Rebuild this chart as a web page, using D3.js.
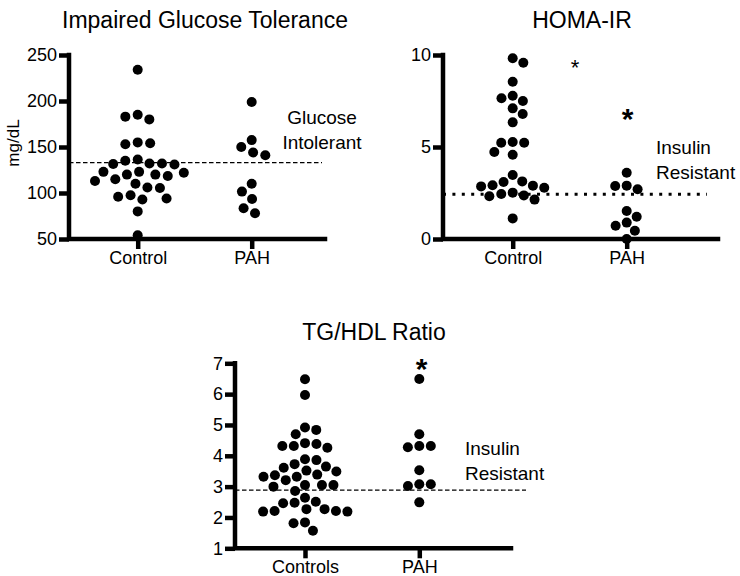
<!DOCTYPE html>
<html>
<head>
<meta charset="utf-8">
<script src="https://cdn.jsdelivr.net/npm/d3@7"></script>
<style>
  html, body { margin: 0; padding: 0; background: #fff; }
  svg { display: block; font-family: "Liberation Sans", Arial, Helvetica, sans-serif; }
</style>
</head>
<body>
<svg id="chart" width="740" height="576"></svg>
<script>
// ---------------- DATA ----------------
const glucoseCategories = ["Control", "PAH"];
const glucoseControl = [234, 185, 180, 183, 154, 153, 155, 135, 132, 131, 131.5, 132, 136.5,
  123, 122, 120, 115, 113, 118.5, 120, 123, 110, 105.5, 106, 93, 96, 94, 97.5, 80, 54];
const glucosePAH = [199, 150, 141, 144, 157.5, 110, 101.5, 93.5, 83.5, 78];
const glucoseTicks = [50, 100, 150, 200, 250];
const glucoseThreshold = 133;

const homaCategories = ["Control", "PAH"];
const homaControl = [9.82, 9.58, 8.55, 7.65, 7.5, 7.79, 7.1, 6.79, 6.34, 5.23, 5.23, 5.27,
  4.73, 4.58, 3.48, 3.1, 3.13, 2.9, 2.79, 2.45, 2.32, 2.14, 2.37, 2.52, 2.86, 2.92, 1.12];
const homaPAH = [3.6, 2.9, 2.7, 2.88, 1.52, 1.21, 0.72, 0.89, 0.45, 0.0];
const homaTicks = [0, 5, 10];
const homaThreshold = 2.43;

const tgCategories = ["Controls", "PAH"];
const tgControls = [6.48, 5.97, 4.84, 4.92, 4.70, 4.32, 4.26, 4.41, 4.38, 4.32,
  3.65, 3.52, 3.86, 3.89, 3.32, 3.39, 3.37, 3.49, 3.61, 3.73, 3.32, 3.21,
  3.05, 3.05, 3.0, 3.05, 2.86, 2.64, 2.48, 2.51, 2.46,
  2.27, 2.21, 2.19, 2.19, 2.21, 2.27, 1.84, 1.81, 1.57];
const tgPAH = [6.49, 4.70, 4.32, 4.28, 4.32, 3.53, 3.08, 3.02, 3.08, 2.49];
const tgTicks = [1, 2, 3, 4, 5, 6, 7];
const tgThreshold = 2.89;

// ---------------- DRAW ----------------
const svg = d3.select("#chart");
const R = 5;
const AXW = 4.5;

function swarm(values, y, cx, d) {
  const pts = values.map(v => ({ v, y: y(v), x: 0 }));
  const order = pts.slice().sort((a, b) => a.y - b.y);
  const placed = [];
  let flip = 1;
  for (const p of order) {
    let cands = [0];
    for (const q of placed) {
      const dy = p.y - q.y;
      if (Math.abs(dy) < d) {
        const dx = Math.sqrt(d * d - dy * dy);
        cands.push(q.x + dx, q.x - dx);
      }
    }
    cands.sort((a, b) => (Math.abs(a) - Math.abs(b)) || (flip * (a - b)));
    for (const c of cands) {
      const ok = placed.every(q => Math.hypot(q.x - c, q.y - p.y) >= d - 0.01);
      if (ok) { p.x = c; break; }
    }
    flip = -flip;
    placed.push(p);
  }
  return pts.map(p => ({ v: p.v, x: cx + p.x, y: p.y }));
}

function panel(cfg) {
  const g = svg.append("g");
  const y = d3.scaleLinear().domain(cfg.yDomain).range(cfg.yRange);
  const x = d3.scalePoint().domain(cfg.categories).range(cfg.xPoints);

  // threshold line
  g.append("line")
    .attr("x1", cfg.axisX).attr("x2", cfg.lineEnd)
    .attr("y1", y(cfg.threshold)).attr("y2", y(cfg.threshold))
    .attr("stroke", "#000")
    .attr("stroke-width", cfg.dotted ? 3 : 1.2)
    .attr("stroke-dasharray", cfg.dotted ? "3 6.4" : "4.5 2.5");

  // y axis
  const ya = g.append("g").attr("transform", `translate(${cfg.axisX},0)`)
    .call(d3.axisLeft(y).tickValues(cfg.ticks).tickSize(10).tickPadding(2).tickFormat(d3.format("d")));
  ya.select(".domain").remove();
  ya.selectAll(".tick line").attr("stroke", "#000").attr("stroke-width", AXW);
  ya.selectAll(".tick text").attr("font-size", 18).attr("fill", "#000")
    .attr("font-family", "Liberation Sans, Arial, sans-serif");

  // x axis
  const xa = g.append("g").attr("transform", `translate(0,${cfg.yRange[0]})`)
    .call(d3.axisBottom(x).tickSize(10).tickPadding(2));
  xa.select(".domain").remove();
  xa.selectAll(".tick line").attr("stroke", "#000").attr("stroke-width", AXW);
  xa.selectAll(".tick text").attr("font-size", 18).attr("fill", "#000")
    .attr("font-family", "Liberation Sans, Arial, sans-serif");

  // axis lines
  g.append("path")
    .attr("d", `M${cfg.axisX},${cfg.yRange[1]}V${cfg.yRange[0]}H${cfg.axisEnd}`)
    .attr("fill", "none").attr("stroke", "#000").attr("stroke-width", AXW)
    .attr("stroke-linecap", "square");

  // dots
  cfg.categories.forEach((c, i) => {
    const pts = swarm(cfg.series[i], y, x(c), cfg.spacing);
    g.append("g").selectAll("circle").data(pts).join("circle")
      .attr("cx", d => d.x).attr("cy", d => d.y).attr("r", R).attr("fill", "#000");
  });

  // title
  g.append("text").attr("x", cfg.title[1]).attr("y", cfg.title[2])
    .attr("text-anchor", "middle").attr("font-size", 23).attr("fill", "#000")
    .text(cfg.title[0]);

  // annotation
  const ann = g.append("text").attr("font-size", 19).attr("fill", "#000")
    .attr("text-anchor", cfg.annAnchor);
  cfg.annLines.forEach((t, i) => {
    ann.append("tspan").attr("x", cfg.annX).attr("y", cfg.annY + i * 25).text(t);
  });
  return { g, x, y };
}

const p1 = panel({
  categories: glucoseCategories, series: [glucoseControl, glucosePAH],
  yDomain: [50, 250], yRange: [239, 55], xPoints: [137.7, 251.7],
  axisX: 69, axisEnd: 325, lineEnd: 322, ticks: glucoseTicks,
  threshold: glucoseThreshold, dotted: false, spacing: 12.5,
  title: ["Impaired Glucose Tolerance", 205, 28],
  annLines: ["Glucose", "Intolerant"], annX: 322, annY: 124, annAnchor: "middle"
});
svg.append("text").attr("transform", "translate(19,143) rotate(-90)")
  .attr("text-anchor", "middle").attr("font-size", 17).attr("fill", "#000").text("mg/dL");

const p2 = panel({
  categories: homaCategories, series: [homaControl, homaPAH],
  yDomain: [0, 10], yRange: [239, 55], xPoints: [512.7, 626.7],
  axisX: 443, axisEnd: 718, lineEnd: 707, ticks: homaTicks,
  threshold: homaThreshold, dotted: true, spacing: 11.5,
  title: ["HOMA-IR", 582, 28],
  annLines: ["Insulin", "Resistant"], annX: 656, annY: 154, annAnchor: "start"
});
p2.g.append("text").attr("x", 575).attr("y", 75).attr("text-anchor", "middle")
  .attr("font-size", 22).attr("fill", "#000").text("*");
p2.g.append("text").attr("x", 627.7).attr("y", 129).attr("text-anchor", "middle")
  .attr("font-size", 30).attr("font-weight", "bold").attr("fill", "#000").text("*");

const p3 = panel({
  categories: tgCategories, series: [tgControls, tgPAH],
  yDomain: [1, 7], yRange: [548.3, 363.3], xPoints: [305, 419.3],
  axisX: 235, axisEnd: 511, lineEnd: 526, ticks: tgTicks,
  threshold: tgThreshold, dotted: false, spacing: 11.5,
  title: ["TG/HDL Ratio", 374, 340],
  annLines: ["Insulin", "Resistant"], annX: 465, annY: 455, annAnchor: "start"
});
p3.g.append("text").attr("x", 421.7).attr("y", 379).attr("text-anchor", "middle")
  .attr("font-size", 30).attr("font-weight", "bold").attr("fill", "#000").text("*");
</script>
</body>
</html>
